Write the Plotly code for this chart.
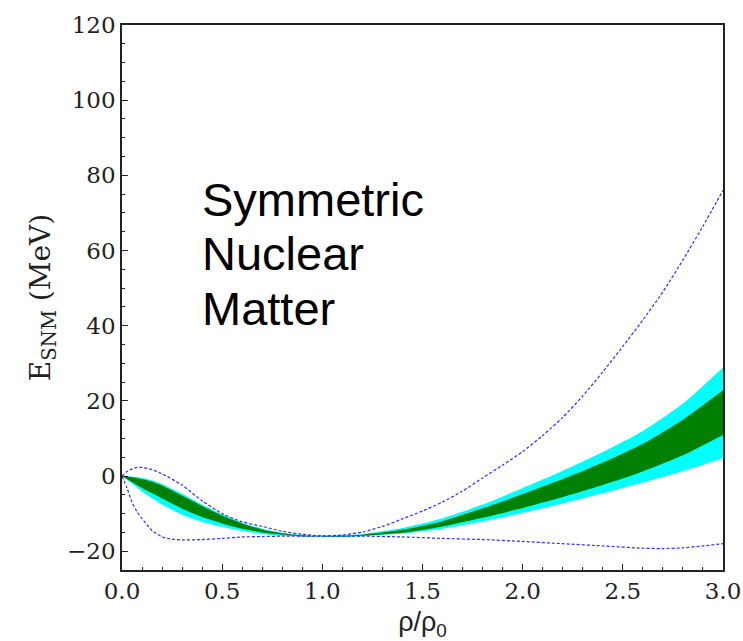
import plotly.graph_objects as go

# density grid (rho/rho0)
x_band = [0.0, 0.05, 0.1, 0.15, 0.2, 0.3, 0.4, 0.5, 0.6, 0.7, 0.8, 0.9, 1.0, 1.1, 1.2,
          1.4, 1.6, 1.8, 2.0, 2.2, 2.4, 2.6, 2.8, 3.0]
green_top = [0.0, -0.3, -0.8, -1.5, -2.5, -5.2, -8.0, -10.5, -12.6, -14.2, -15.2, -15.8, -16.0,
             -15.9, -15.6, -14.3, -12.0, -8.6, -4.8, -0.8, 3.6, 8.6, 15.0, 22.8]
green_bot = [0.0, -1.6, -3.2, -4.6, -6.0, -8.7, -10.9, -12.6, -14.0, -15.0, -15.6, -16.0, -16.1,
             -16.1, -15.9, -15.1, -13.4, -11.1, -8.5, -5.6, -2.4, 1.2, 5.5, 10.9]
cyan_top = [0.0, -0.15, -0.5, -1.1, -2.1, -4.7, -7.6, -10.2, -12.4, -14.0, -15.1, -15.7, -16.0,
            -15.8, -15.4, -13.8, -11.2, -7.6, -3.2, 1.4, 6.4, 12.0, 19.3, 28.9]
cyan_bot = [0.0, -2.0, -4.1, -5.9, -7.6, -10.3, -12.2, -13.5, -14.6, -15.4, -15.9, -16.1, -16.2,
            -16.2, -16.0, -15.3, -14.0, -12.1, -9.8, -7.3, -4.6, -1.7, 1.3, 4.7]

x_up = [0.0, 0.025, 0.05, 0.075, 0.1, 0.15, 0.2, 0.3, 0.4, 0.5, 0.6, 0.7, 0.8, 0.9, 1.0,
        1.1, 1.2, 1.3, 1.4, 1.5, 1.6, 1.7, 1.8, 1.9, 2.0, 2.1, 2.2, 2.3, 2.4, 2.5, 2.6,
        2.7, 2.8, 2.9, 3.0]
upper_env = [0.0, 1.2, 1.9, 2.3, 2.3, 1.7, 0.6, -2.4, -6.6, -10.0, -12.2, -13.4, -14.7, -15.5,
             -15.9, -15.7, -14.9, -13.4, -11.4, -9.3, -6.9, -4.0, -0.5, 2.9, 6.5, 10.8, 15.6,
             21.3, 27.7, 34.5, 41.5, 49.0, 57.5, 66.5, 76.0]

x_lo = [0.0, 0.025, 0.05, 0.075, 0.1, 0.15, 0.2, 0.25, 0.3, 0.4, 0.5, 0.6, 0.7, 0.8, 1.0,
        1.2, 1.4, 1.6, 1.8, 2.0, 2.2, 2.4, 2.6, 2.7, 2.8, 2.9, 3.0]
lower_env = [0.0, -3.2, -7.0, -9.5, -11.3, -14.5, -16.2, -16.8, -17.0, -16.9, -16.6, -16.2,
             -16.1, -16.0, -16.0, -16.0, -16.2, -16.6, -16.9, -17.4, -18.0, -18.6, -19.2,
             -19.3, -19.1, -18.6, -18.0]

x_ticks = [0.0, 0.5, 1.0, 1.5, 2.0, 2.5, 3.0]
y_ticks = [-20, 0, 20, 40, 60, 80, 100, 120]
label_lines = ["Symmetric", "Nuclear", "Matter"]
label_y = [73.6, 59.1, 44.6]

fig = go.Figure()
for lo, hi, col in [(cyan_bot, cyan_top, "#00ffff"), (green_bot, green_top, "#008000")]:
    fig.add_trace(go.Scatter(x=x_band, y=lo, mode="lines", hoverinfo="skip", showlegend=False,
                             line=dict(width=0, color=col, shape="spline", smoothing=0.6)))
    fig.add_trace(go.Scatter(x=x_band, y=hi, mode="lines", hoverinfo="skip", showlegend=False,
                             fill="tonexty", fillcolor=col,
                             line=dict(width=0, color=col, shape="spline", smoothing=0.6)))
for xs, ys in [(x_up, upper_env), (x_lo, lower_env)]:
    fig.add_trace(go.Scatter(x=xs, y=ys, mode="lines", showlegend=False,
                             line=dict(color="rgb(45,45,255)", width=1.2, dash="3px,2px",
                                       shape="spline", smoothing=0.6)))

for txt, yv in zip(label_lines, label_y):
    fig.add_annotation(x=0.39, y=yv, xref="x", yref="y", xanchor="left", yanchor="middle",
                       align="left", showarrow=False, text=txt,
                       font=dict(family="Liberation Sans, Arial", size=47, color="black"))

axis_common = dict(showline=True, linecolor="#222", linewidth=1.6, mirror=True,
                   ticks="inside", ticklen=6, tickwidth=1.2, tickcolor="#222",
                   showgrid=False, zeroline=False,
                   tickfont=dict(family="DejaVu Serif", size=23, color="#222"))
fig.update_xaxes(range=[0, 3], tickvals=x_ticks, ticktext=[f"{v:.1f}" for v in x_ticks],
                 automargin=False,
                 minor=dict(dtick=0.1, tick0=0, ticks="inside", ticklen=3, tickcolor="#222"),
                 title=dict(text="ρ/ρ<sub>0</sub>", standoff=10,
                            font=dict(family="Liberation Sans, Arial", size=27, color="#222")),
                 **axis_common)
fig.update_yaxes(range=[-25, 120], tickvals=y_ticks,
                 minor=dict(dtick=5, tick0=0, ticks="inside", ticklen=3, tickcolor="#222"),
                 title=dict(text="E<sub>SNM</sub> (MeV)", standoff=8,
                            font=dict(family="DejaVu Serif", size=28, color="#222")),
                 **axis_common)
fig.update_layout(width=743, height=641, margin=dict(l=122, r=20, t=18, b=71),
                  plot_bgcolor="white", paper_bgcolor="white")
fig.write_html("out.html")
